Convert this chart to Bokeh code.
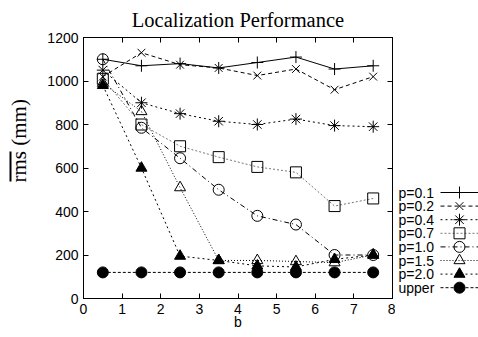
import math
from bokeh.plotting import figure
from bokeh.models import Range1d, LinearAxis, FixedTicker
from bokeh.layouts import row
from bokeh.embed import file_html
from bokeh.resources import INLINE
from bokeh.core.properties import value

b = [0.5, 1.5, 2.5, 3.5, 4.5, 5.5, 6.5, 7.5]
p01 = [1100, 1070, 1080, 1060, 1085, 1110, 1055, 1070]
p02 = [1020, 1130, 1075, 1060, 1025, 1055, 960, 1020]
p04 = [1050, 900, 850, 815, 800, 825, 795, 790]
p07 = [1010, 800, 700, 650, 605, 580, 425, 460]
p10 = [1100, 785, 645, 500, 380, 340, 200, 200]
p15 = [990, 860, 510, 175, 175, 170, 165, 200]
p20 = [980, 600, 195, 175, 150, 145, 180, 200]
upper = [120, 120, 120, 120, 120, 120, 120, 120]
labels = ["p=0.1", "p=0.2", "p=0.4", "p=0.7", "p=1.0", "p=1.5", "p=2.0", "upper"]
x_ticks = [0, 1, 2, 3, 4, 5, 6, 7, 8]
y_ticks = [0, 200, 400, 600, 800, 1000, 1200]
y_label_main = "rms"
y_label_unit = " (mm)"

series = [p01, p02, p04, p07, p10, p15, p20, upper]
styles = [
    dict(marker="cross", dash="solid", color="black", fill=None, size=12),
    dict(marker="x", dash="4 3", color="black", fill=None, size=11),
    dict(marker="asterisk", dash="2 3", color="black", fill=None, size=12),
    dict(marker="square", dash="2 2", color="#777777", fill=None, size=11),
    dict(marker="circle", dash="5 3 1 3", color="black", fill=None, size=11),
    dict(marker="triangle", dash="1 2", color="black", fill=None, size=11),
    dict(marker="triangle", dash="2 3", color="black", fill="black", size=11),
    dict(marker="circle", dash="3 2", color="black", fill="black", size=11),
]

H = 336
W_LAB = 40
W_MAIN = 355
W_LEG = 83
FRAME_TOP, FRAME_BOTTOM = 37, 298

# ---- left strip: y-axis label with overline ----
lab = figure(width=W_LAB, height=H, x_range=Range1d(0, W_LAB),
             y_range=Range1d(FRAME_BOTTOM, FRAME_TOP),
             output_backend="svg", toolbar_location=None, min_border=0,
             x_axis_location=None, y_axis_location=None)
lab.grid.visible = False
lab.outline_line_color = None
lab_y0 = 182  # start (bottom) of rotated text
lab.text(x=[18], y=[lab_y0], text=[y_label_main + y_label_unit], angle=math.pi / 2,
         text_font=value("Liberation Serif"), text_font_size="21px",
         text_align="left", text_baseline="middle", text_color="black")
lab.line([10, 10], [lab_y0 - 1, lab_y0 - 31], line_color="black", line_width=2)

# ---- main plot ----
p = figure(width=W_MAIN, height=H, x_range=Range1d(0, 8), y_range=Range1d(0, 1200),
           output_backend="svg", toolbar_location=None,
           min_border_left=83 - W_LAB, min_border_right=3, min_border_top=FRAME_TOP,
           min_border_bottom=H - FRAME_BOTTOM)
p.title.text = "Localization Performance"
p.title.text_font = "Liberation Serif"
p.title.text_font_size = "20.5px"
p.title.text_font_style = "normal"
p.title.text_color = "black"
p.title.align = "center"
p.title.vertical_align = "top"
p.title.standoff = 10
p.grid.visible = False
p.outline_line_color = "black"
p.background_fill_color = "white"

for ax in [p.xaxis[0], p.yaxis[0]]:
    ax.major_tick_in = 5
    ax.major_tick_out = 0
    ax.minor_tick_line_color = None
    ax.major_label_text_font = "Liberation Sans"
    ax.major_label_text_font_size = "14px"
    ax.major_label_text_color = "black"
    ax.major_label_standoff = 5
    ax.axis_line_color = "black"
    ax.major_tick_line_color = "black"
p.xaxis[0].ticker = FixedTicker(ticks=x_ticks)
p.yaxis[0].ticker = FixedTicker(ticks=y_ticks)
p.xaxis[0].axis_label = "b"
p.xaxis[0].axis_label_text_font = "Liberation Sans"
p.xaxis[0].axis_label_text_font_size = "14px"
p.xaxis[0].axis_label_text_font_style = "normal"
p.xaxis[0].axis_label_text_color = "black"
p.xaxis[0].axis_label_standoff = -3

for tk, side in [(x_ticks, "above"), (y_ticks, "right")]:
    ax = LinearAxis(ticker=FixedTicker(ticks=tk), major_tick_in=5, major_tick_out=0,
                    minor_tick_line_color=None, major_label_text_font_size="0px",
                    major_label_standoff=0, axis_line_color="black")
    p.add_layout(ax, side)

for ys, st in zip(series, styles):
    p.line(b, ys, line_color=st["color"], line_dash=st["dash"], line_width=1)
    p.scatter(b, ys, marker=st["marker"], size=st["size"], line_color="black",
              line_width=1, fill_color=st["fill"], fill_alpha=1 if st["fill"] else 0)

# ---- right strip: legend ----
leg = figure(width=W_LEG, height=H, x_range=Range1d(0, W_LEG),
             y_range=Range1d(FRAME_BOTTOM, FRAME_TOP),
             output_backend="svg", toolbar_location=None, min_border=0,
             x_axis_location=None, y_axis_location=None)
leg.grid.visible = False
leg.outline_line_color = None
ly = [192 + 13.6 * i for i in range(len(labels))]
leg.text(x=[3] * len(labels), y=ly, text=labels, text_font=value("Liberation Sans"),
         text_font_size="14px", text_baseline="middle", text_align="left", text_color="black")
for yy, st in zip(ly, styles):
    leg.line([45, W_LEG], [yy, yy], line_color=st["color"], line_dash=st["dash"], line_width=1)
    leg.scatter([64], [yy], marker=st["marker"], size=st["size"], line_color="black",
                line_width=1, fill_color=st["fill"], fill_alpha=1 if st["fill"] else 0)

layout = row(lab, p, leg)
open("out.html", "w").write(file_html(layout, INLINE))
